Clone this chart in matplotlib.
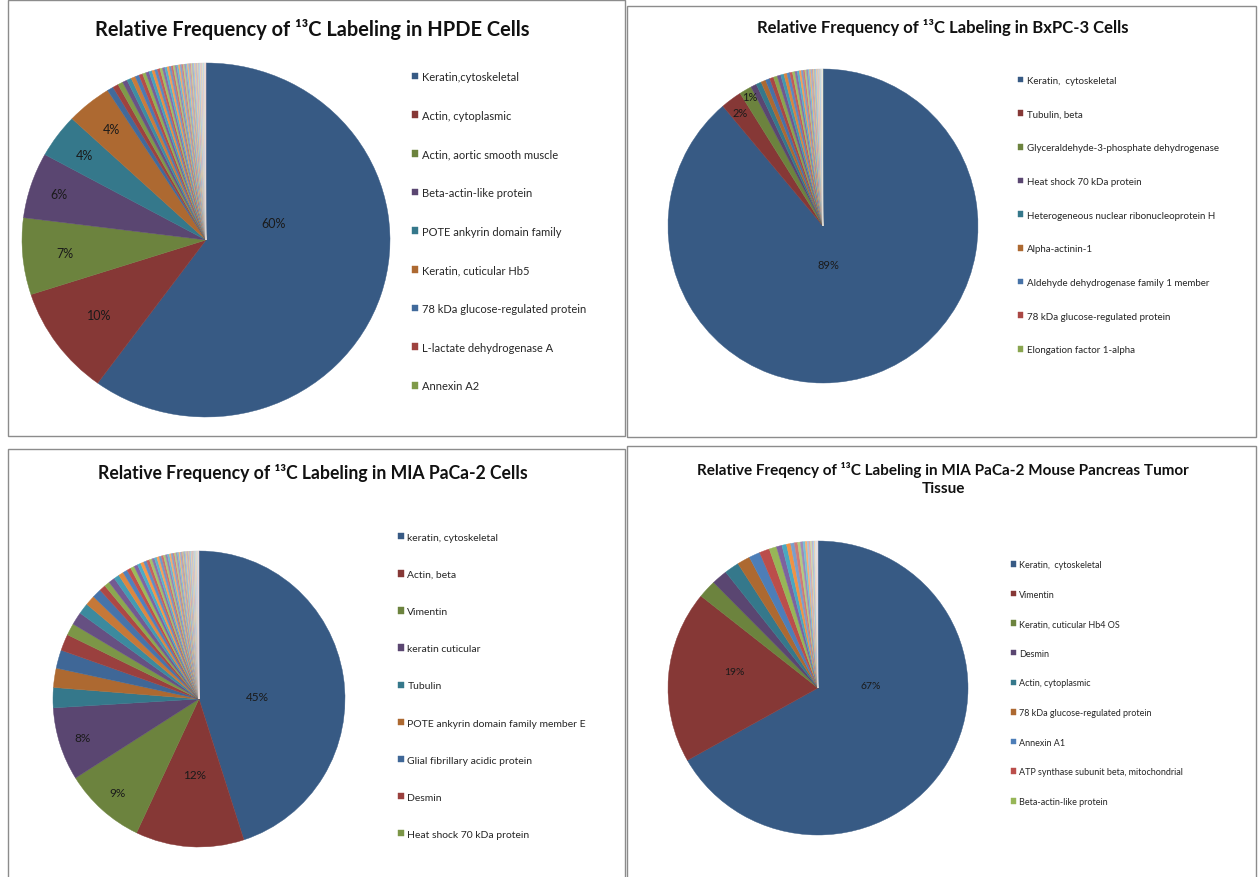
import math
import matplotlib
matplotlib.use("Agg")
import matplotlib.pyplot as plt
from matplotlib.patches import Rectangle
import matplotlib.colors as mcolors

plt.rcParams['font.family'] = ['Lato', 'DejaVu Sans']

# ---------------- data ----------------
hpde_title = "Relative Frequency of \u00b9\u00b3C Labeling in HPDE Cells"
hpde_names = ["Keratin,cytoskeletal", "Actin, cytoplasmic", "Actin, aortic smooth muscle",
              "Beta-actin-like protein", "POTE ankyrin domain family", "Keratin, cuticular Hb5",
              "78 kDa glucose-regulated protein", "L-lactate dehydrogenase A", "Annexin A2"]
hpde_values = [60, 10, 7, 6, 4, 4,
               0.55, 0.5, 0.45, 0.42, 0.4, 0.38, 0.35, 0.33, 0.3, 0.28,
               0.27, 0.25, 0.24, 0.23, 0.22, 0.21, 0.2, 0.19, 0.18, 0.17,
               0.16, 0.15, 0.15, 0.14, 0.14, 0.13, 0.13, 0.12, 0.12, 0.11,
               0.11, 0.1, 0.1, 0.1, 0.09, 0.09, 0.09, 0.08, 0.08, 0.08,
               0.07, 0.07, 0.07, 0.06, 0.06, 0.06, 0.05, 0.05, 0.05, 0.05]
hpde_labeled = 6

bxpc_title = "Relative Frequency of \u00b9\u00b3C Labeling in BxPC-3 Cells"
bxpc_names = ["Keratin,  cytoskeletal", "Tubulin, beta", "Glyceraldehyde-3-phosphate dehydrogenase",
              "Heat shock 70 kDa protein", "Heterogeneous nuclear ribonucleoprotein H",
              "Alpha-actinin-1", "Aldehyde dehydrogenase family 1 member",
              "78 kDa glucose-regulated protein", "Elongation factor 1-alpha"]
bxpc_values = [89, 2.2, 1.3,
               0.6, 0.55, 0.5, 0.45, 0.42, 0.4, 0.37, 0.34, 0.32, 0.3,
               0.28, 0.26, 0.24, 0.22, 0.2, 0.19, 0.18, 0.17, 0.16, 0.15,
               0.14, 0.13, 0.12, 0.11, 0.1, 0.1, 0.09, 0.09, 0.08, 0.08,
               0.07, 0.07, 0.06, 0.06, 0.05, 0.05]
bxpc_labeled = 3

mia_title = "Relative Frequency of \u00b9\u00b3C Labeling in MIA PaCa-2 Cells"
mia_names = ["keratin, cytoskeletal", "Actin, beta", "Vimentin", "keratin cuticular", "Tubulin",
             "POTE ankyrin domain family member E", "Glial fibrillary acidic protein",
             "Desmin", "Heat shock 70 kDa protein"]
mia_values = [45, 12, 9, 8,
              2.2, 2.1, 2.0, 1.8, 1.3, 1.4, 1.2, 1.1, 1.0,
              0.7, 0.6, 0.7, 0.6, 0.55, 0.5, 0.45, 0.42, 0.4, 0.38,
              0.36, 0.34, 0.32, 0.3, 0.28, 0.27, 0.26, 0.25, 0.24, 0.23,
              0.22, 0.21, 0.2, 0.19, 0.18, 0.17, 0.16, 0.15, 0.14, 0.14,
              0.13, 0.12, 0.12, 0.11, 0.11, 0.1, 0.1, 0.09, 0.09, 0.09,
              0.08, 0.08, 0.07, 0.07, 0.07, 0.06, 0.06, 0.06, 0.05, 0.05,
              0.05, 0.05, 0.04, 0.04, 0.04]
mia_labeled = 4

tum_title = "Relative Freqency of \u00b9\u00b3C Labeling in MIA PaCa-2 Mouse Pancreas Tumor\nTissue"
tum_names = ["Keratin,  cytoskeletal", "Vimentin", "Keratin, cuticular Hb4 OS", "Desmin",
             "Actin, cytoplasmic", "78 kDa glucose-regulated protein", "Annexin A1",
             "ATP synthase subunit beta, mitochondrial", "Beta-actin-like protein"]
tum_values = [67, 19,
              2.0, 1.7, 1.6, 1.4, 1.2, 1.1, 0.8, 0.6, 0.5, 0.45,
              0.4, 0.35, 0.3, 0.27, 0.24, 0.21, 0.19, 0.17, 0.15, 0.13,
              0.12, 0.1, 0.09, 0.08, 0.07, 0.06]
tum_labeled = 2

# ---------------- style ----------------
W, H = 1258, 878
DPI = 100
ACCENTS = ["#4F81BD", "#C0504D", "#9BBB59", "#8064A2", "#4BACC6", "#F79646"]


def excel_colors(n):
    ncyc = (n + 5) // 6
    out = []
    for i in range(n):
        k, j = divmod(i, 6)
        t = k / max(ncyc - 1, 1)
        v = -0.3 + 1.1 * t
        base = mcolors.to_rgb(ACCENTS[j])
        if v < 0:
            c = tuple(x * (1 + v) for x in base)
        else:
            c = tuple(x + (1 - x) * v * 0.95 for x in base)
        out.append(c)
    return out


fig = plt.figure(figsize=(W / DPI, H / DPI), dpi=DPI)
fig.patch.set_facecolor("white")


def px_box(x0, y0, x1, y1):
    return [x0 / W, 1 - y1 / H, (x1 - x0) / W, (y1 - y0) / H]


# panel borders
for (x0, y0, x1, y1) in [(8, 1, 625, 437), (627, 7, 1256, 438),
                         (8, 450, 625, 880), (627, 447, 1256, 880)]:
    fig.patches.append(Rectangle((x0 / W, 1 - y1 / H), (x1 - x0) / W, (y1 - y0) / H,
                                 transform=fig.transFigure, fill=False,
                                 edgecolor="#8c8c8c", linewidth=1.0))


def draw(title, tpos, tsize, values, names, nlab, center, radii, label_pos, label_fs,
         leg_pos, leg_fs, leg_row):
    cx, cy = center
    rx, ry = radii
    ax = fig.add_axes(px_box(cx - rx, cy - ry, cx + rx, cy + ry))
    cols = excel_colors(len(values))
    wedges, _ = ax.pie(values, startangle=90, counterclock=False, colors=cols,
                       wedgeprops=dict(linewidth=0.3))
    for w, c in zip(wedges, cols):
        w.set_edgecolor(c)
    ax.set_aspect("auto")
    ax.set_xlim(-1, 1)
    ax.set_ylim(-1, 1)
    ax.axis("off")
    total = sum(values)
    for i in range(nlab):
        w = wedges[i]
        r, dth = label_pos[i]
        mid = math.radians((w.theta1 + w.theta2) / 2 + dth)
        ax.text(r * math.cos(mid), r * math.sin(mid), f"{round(values[i] / total * 100)}%",
                ha="center", va="center", fontsize=label_fs, color="#1a1a1a")
    fig.text(tpos[0] / W, 1 - tpos[1] / H, title, ha="center", va="center",
             fontsize=tsize, fontweight="bold", color="#111111", linespacing=1.45)
    fs_px = leg_fs * DPI / 72
    ls = leg_row / fs_px - 0.95
    ax.legend(wedges[:9], names, loc="upper left",
              bbox_to_anchor=(leg_pos[0] / W, 1 - leg_pos[1] / H),
              bbox_transform=fig.transFigure, frameon=False, fontsize=leg_fs,
              handlelength=0.55, handleheight=0.55, handletextpad=0.35,
              labelspacing=ls, borderpad=0, borderaxespad=0, labelcolor="#262626")


draw(hpde_title, (312, 30), 14.4, hpde_values, hpde_names, hpde_labeled,
     (206, 241), (184, 177),
     [(0.38, 33), (0.72, 0), (0.77, 0), (0.84, 0), (0.82, 0), (0.81, 0)], 9,
     (412, 72), 8, 38.2)
draw(bxpc_title, (943, 27), 12, bxpc_values, bxpc_names, bxpc_labeled,
     (823, 227), (155, 157), [(0.25, -12), (0.9, 0), (0.95, 0)], 8,
     (1018, 77), 7, 33.9)
draw(mia_title, (313, 473), 12.7, mia_values, mia_names, mia_labeled,
     (199, 700), (146, 148), [(0.40, -7), (0.51, 0), (0.84, 0), (0.84, 0)], 8.5,
     (398, 534), 7.5, 38.0)
draw(tum_title, (943, 479), 11, tum_values, tum_names, tum_labeled,
     (818, 689), (150, 147), [(0.35, 33.6), (0.57, -6.6)], 7.5,
     (1011, 561), 6.5, 29.2)

fig.savefig("out.png", dpi=DPI)
